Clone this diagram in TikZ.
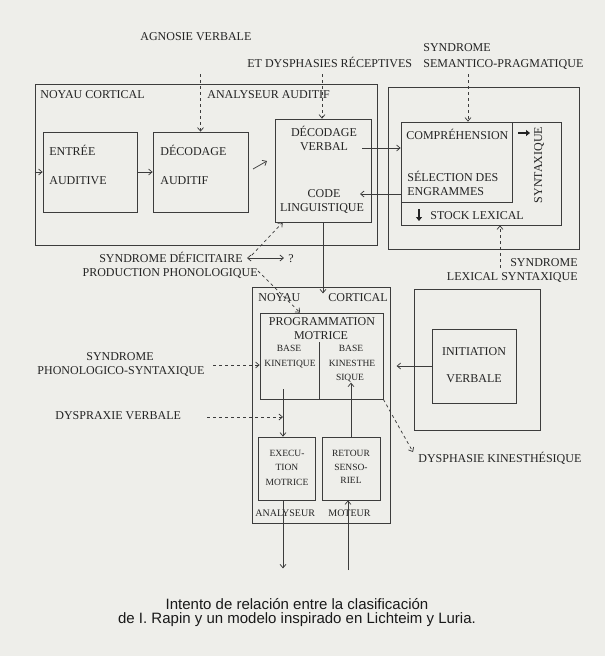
\documentclass[tikz,border=0pt]{standalone}
\usepackage{fontspec}
\setmainfont{Liberation Serif}
\newfontfamily\capfont{Liberation Sans}
\usetikzlibrary{arrows.meta}

\definecolor{paper}{RGB}{238,238,234}
\definecolor{ink}{RGB}{60,60,60}
\definecolor{textink}{RGB}{35,35,35}

\tikzset{
  box/.style={draw=ink, rectangle, inner sep=0pt},
  lbl/.style={inner sep=0pt, text=textink, font=\fontsize{12}{14}\selectfont, text height=8pt, text depth=0pt},
  small/.style={inner sep=0pt, text=textink, font=\fontsize{9.5}{11}\selectfont, text height=6.5pt, text depth=0pt},
  syn/.style={->, dashed},
}

\begin{document}
\begin{tikzpicture}[x=1pt, y=-1pt, line width=0.75pt, draw=ink,
    >={Straight Barb[length=3.5pt,width=6pt]}]
    \fill[paper] (0,0) rectangle (605,656);
    \useasboundingbox (0,0) rectangle (605,656);

    % boxes
    \node[box, minimum width=342pt, minimum height=161pt] (outer1) at (206,164.5) {};
    \node[box, minimum width=94pt, minimum height=80pt] (entree) at (90,172) {};
    \node[box, minimum width=95pt, minimum height=80pt] (decaud) at (200.5,172) {};
    \node[box, minimum width=96pt, minimum height=103pt] (decverb) at (323,170.5) {};
    \node[box, minimum width=191pt, minimum height=162pt] (outer2) at (483.5,168) {};
    \node[box, minimum width=160pt, minimum height=103pt] (stock) at (481,173.5) {};
    \node[box, minimum width=111pt, minimum height=80pt] (compr) at (456.5,162) {};
    \node[box, minimum width=138pt, minimum height=236pt] (noyau) at (321,405) {};
    \node[box, minimum width=123pt, minimum height=86pt] (prog) at (321.5,356) {};
    \node[box, minimum width=57pt, minimum height=63pt] (exec) at (286.5,468.5) {};
    \node[box, minimum width=58pt, minimum height=63pt] (retour) at (351,468.5) {};
    \node[box, minimum width=126pt, minimum height=141pt] (initout) at (477,359.5) {};
    \node[box, minimum width=84pt, minimum height=74pt] (initin) at (474,366) {};

    % labels, top
    \node[lbl, anchor=west] (agn) at (140,36) {AGNOSIE VERBALE};
    \node[lbl, anchor=west] (dysph) at (247,63) {ET DYSPHASIES RÉCEPTIVES};
    \node[lbl, anchor=west] (synsem) at (423,47) {SYNDROME};
    \node[lbl, anchor=west] (sem) at (423,63) {SEMANTICO-PRAGMATIQUE};

    % labels, upper boxes
    \node[lbl, anchor=west] (noyA) at (40,94) {NOYAU CORTICAL};
    \node[lbl, anchor=west] (anaA) at (207,94) {ANALYSEUR AUDITIF};
    \node[lbl, anchor=west] (entA) at (49,151) {ENTRÉE};
    \node[lbl, anchor=west] (entB) at (49,180) {AUDITIVE};
    \node[lbl, anchor=west] (dauA) at (160,151) {DÉCODAGE};
    \node[lbl, anchor=west] (dauB) at (160,180) {AUDITIF};
    \node[lbl] (dvA) at (324,132) {DÉCODAGE};
    \node[lbl] (dvB) at (324,146) {VERBAL};
    \node[lbl] (cdA) at (324,193) {CODE};
    \node[lbl] (cdB) at (322,207) {LINGUISTIQUE};
    \node[lbl, anchor=west] (comp) at (406,135) {COMPRÉHENSION};
    \node[lbl, anchor=west] (selA) at (407,177) {SÉLECTION DES};
    \node[lbl, anchor=west] (selB) at (407,191) {ENGRAMMES};
    \node[lbl, anchor=west] (stk) at (430,215) {STOCK LEXICAL};
    \node[lbl, rotate=90] (synt) at (538,165) {SYNTAXIQUE};
    \draw[textink, line width=2.2pt, -{Triangle[length=4pt,width=6pt]}] (518,133) -- (530,133);
    \draw[textink, line width=2.2pt, -{Triangle[length=4pt,width=6pt]}] (419,209) -- (419,221);

    % labels, middle
    \node[lbl, anchor=east] (defic) at (243,258) {SYNDROME DÉFICITAIRE};
    \node[lbl, anchor=east] (prod) at (258,272) {PRODUCTION PHONOLOGIQUE};
    \node[lbl] (quest) at (291,258) {?};
    \node[lbl, anchor=east] (synlex) at (578,262) {SYNDROME};
    \node[lbl, anchor=east] (lex) at (578,276) {LEXICAL SYNTAXIQUE};
    \node[lbl] (synph) at (120,356) {SYNDROME};
    \node[lbl] (phon) at (121,370) {PHONOLOGICO-SYNTAXIQUE};
    \node[lbl, anchor=west] (dyspr) at (55,415) {DYSPRAXIE VERBALE};
    \node[lbl, anchor=west] (dysk) at (418,458) {DYSPHASIE KINESTHÉSIQUE};

    % labels, lower boxes
    \node[lbl, anchor=west] (noyB) at (258,297) {NOYAU};
    \node[lbl, anchor=west] (corB) at (328,297) {CORTICAL};
    \node[lbl] (prA) at (322,321) {PROGRAMMATION};
    \node[lbl] (prB) at (321,335) {MOTRICE};
    \node[small] (bkA) at (289,348) {BASE};
    \node[small] (bkB) at (290,363) {KINETIQUE};
    \node[small] (bsA) at (351,348) {BASE};
    \node[small] (bsB) at (352,363) {KINESTHE};
    \node[small] (bsC) at (350,377) {SIQUE};
    \node[lbl] (inA) at (474,351) {INITIATION};
    \node[lbl] (inB) at (474,378) {VERBALE};
    \node[small] (exA) at (287,453) {EXECU-};
    \node[small] (exB) at (287,467) {TION};
    \node[small] (exC) at (287,482) {MOTRICE};
    \node[small] (reA) at (351,453) {RETOUR};
    \node[small] (reB) at (351,467) {SENSO-};
    \node[small] (reC) at (351,480) {RIEL};
    \node[small, font=\fontsize{10}{12}\selectfont, anchor=west] (anaB) at (255,513) {ANALYSEUR};
    \node[small, font=\fontsize{10}{12}\selectfont, anchor=west] (motB) at (328,513) {MOTEUR};

    % connectors
    \coordinate (agnA) at (200.5,74);
    \coordinate (dysA) at (322,74);
    \coordinate (semA) at (468,74);
    \draw[syn] (agnA) -- (decaud.north);
    \draw[syn] (dysA) -- (dysA |- decverb.north);
    \draw[syn] (semA) -- (semA |- stock.north);

    \draw[->] (entree.west -| outer1.west) -- (entree.west);
    \draw[->] (entree.east) -- (decaud.west);
    \coordinate (dgA) at (253,169);
    \coordinate (dgB) at (267,161);
    \draw[->] (dgA) -- (dgB);
    \coordinate (vOut) at (362,148);
    \draw[->] (vOut) -- (vOut -| compr.west);
    \coordinate (cIn) at (360,194);
    \draw[->] (cIn -| compr.west) -- (cIn);

    \draw[->] (decverb.south) -- ++(0,71);
    \draw[<->] ([xshift=4pt]defic.east) -- ([xshift=-4pt]quest.west);
    \draw[syn] ([xshift=9pt,yshift=3pt]defic.east) -- ([xshift=8pt]decverb.south west);
    \draw[syn] ([xshift=0pt,yshift=1pt]prod.east) -- ([xshift=-21.5pt]prog.north);
    \coordinate (lexA) at (500,268);
    \draw[syn] (lexA) -- (lexA |- stock.south);

    \coordinate (phA) at (213,365);
    \draw[syn] (phA) -- (phA -| prog.west);
    \coordinate (div) at (319,342);
    \draw (div) -- (div |- prog.south);
    \coordinate (kin) at (283,389);
    \draw[->] (kin) -- (kin |- exec.north);
    \coordinate (dyA) at (207,417);
    \draw[syn] (dyA) -- (dyA -| kin);
    \draw[->] (retour.north) -- ++(0,-54);
    \draw[->] (initin.west) -- ++(-35,0);
    \draw[syn] (prog.south east) -- ([xshift=-5pt,yshift=6pt]dysk.west);

    \draw[->] (kin |- exec.south) -- ++(0,68);
    \coordinate (mot) at (348,570);
    \draw[->] (mot) -- (mot |- retour.south);

    % caption
    \node[inner sep=0pt, text=black!90, font=\capfont\fontsize{15}{17}\selectfont] (capA) at (297,604) {Intento de relación entre la clasificación};
    \node[inner sep=0pt, text=black!90, font=\capfont\fontsize{15}{17}\selectfont] (capB) at (297,620) {de I. Rapin y un modelo inspirado en Lichteim y Luria.};
\end{tikzpicture}
\end{document}
